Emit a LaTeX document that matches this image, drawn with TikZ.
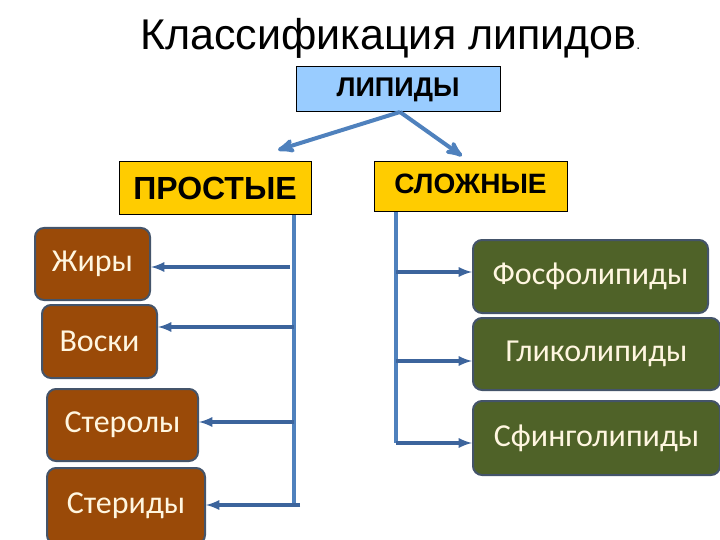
\documentclass[tikz,border=0pt]{standalone}
\usepackage{fontspec}
\setmainfont{Carlito}
\newfontfamily\arialfont{Liberation Sans}
\usepackage{xcolor}
\usetikzlibrary{arrows, positioning}

\definecolor{lipblue}{HTML}{99CCFF}
\definecolor{lipgold}{HTML}{FFCC00}
\definecolor{lipbrown}{HTML}{9A4A08}
\definecolor{lipgreen}{HTML}{4F6228}
\definecolor{lipedge}{HTML}{44546A}
\definecolor{lipline}{HTML}{4F81BD}
\definecolor{liparrow}{HTML}{3C649C}
\definecolor{lipcream}{HTML}{FFF6E0}

\begin{document}
\begin{tikzpicture}[
    x=1pt, y=-1pt,
    head/.style={rectangle, draw=black, line width=1pt, font=\arialfont\bfseries},
    sub/.style={rectangle, rounded corners=9pt, draw=lipedge, line width=2pt,
                text=lipcream, font=\fontsize{32}{36}\selectfont, inner sep=0pt},
    brownbox/.style={sub, fill=lipbrown},
    greenbox/.style={sub, fill=lipgreen},
    stem/.style={lipline, line width=3.5pt},
    arr/.style={-latex, liparrow, line width=3.5pt},
    toparr/.style={->, >=stealth', lipline, line width=4pt}
]
    \useasboundingbox (0,0) rectangle (720,540);

    % title
    \node[anchor=base west, inner sep=0pt, font=\arialfont\fontsize{43}{48}\selectfont] (title)
        at (140,50) {Классификация липидов\fontsize{14}{16}\selectfont.};

    % top level
    \node[head, fill=lipblue, minimum width=204, minimum height=45,
          font=\arialfont\bfseries\fontsize{27}{30}\selectfont] (lip) at (398,89.5) {ЛИПИДЫ};
    \node[head, fill=lipgold, minimum width=192, minimum height=53,
          font=\arialfont\bfseries\fontsize{32}{36}\selectfont] (prost) at (215,188.5) {ПРОСТЫЕ};
    \node[head, fill=lipgold, minimum width=193, minimum height=50,
          font=\arialfont\bfseries\fontsize{28}{32}\selectfont, text depth=6pt] (slozh) at (470.5,187) {СЛОЖНЫЕ};

    \coordinate (lipfoot) at (400,112);
    \draw[toparr] (lipfoot) -- (278,150);
    \draw[toparr] (lipfoot) -- (462,156);

    % simple lipids
    \node[brownbox, minimum width=115, minimum height=72] (zhiry) at (92.5,264) {Жиры};
    \node[brownbox, minimum width=115, minimum height=73] (voski) at (99.5,341.5) {Воски};
    \node[brownbox, minimum width=151, minimum height=72] (sterol) at (122.5,425) {Стеролы};
    \node[brownbox, minimum width=158, minimum height=76] (sterid) at (126,506) {Стериды};

    \coordinate (lbot) at (294,505);
    \draw[stem] (lbot |- prost.south) -- (lbot);
    \coordinate (jz) at (290,267);
    \coordinate (jv) at (294,327);
    \coordinate (js) at (294,422);
    \draw[arr] (jz) -- (jz -| zhiry.east);
    \draw[arr] (jv) -- (jv -| voski.east);
    \draw[arr] (js) -- (js -| sterol.east);
    \draw[arr] (300,505) -- (lbot -| sterid.east);

    % complex lipids
    \node[greenbox, minimum width=235, minimum height=73] (fosf) at (590.5,276.5) {Фосфолипиды};
    \node[greenbox, minimum width=247, minimum height=72] (glik) at (596.5,354) {Гликолипиды};
    \node[greenbox, minimum width=247, minimum height=74] (sfing) at (596.5,438) {Сфинголипиды};

    \coordinate (rbot) at (396,443);
    \draw[stem] (rbot |- slozh.south) -- (rbot);
    \coordinate (jf) at (396,272);
    \coordinate (jg) at (396,361);
    \draw[arr] (jf) -- (jf -| fosf.west);
    \draw[arr] (jg) -- (jg -| glik.west);
    \draw[arr] (rbot) -- (rbot -| sfing.west);
\end{tikzpicture}
\end{document}
